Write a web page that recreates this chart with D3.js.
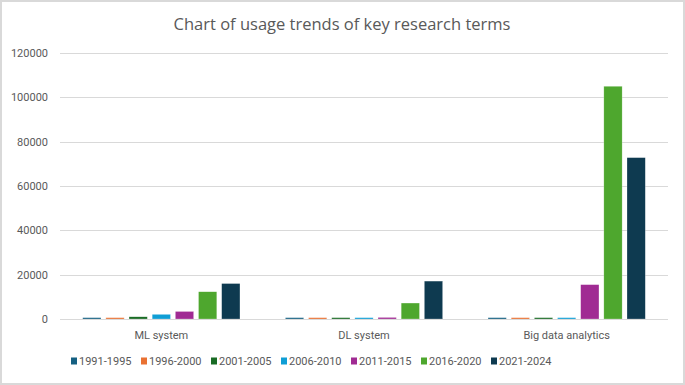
<!DOCTYPE html>
<html>
<head>
<meta charset="utf-8">
<script src="https://cdn.jsdelivr.net/npm/d3@7"></script>
<style>
  html, body { margin: 0; padding: 0; background: #fff; }
  svg { display: block; }
</style>
</head>
<body>
<div id="main"></div>
<script>
// data
const categories = ["ML system", "DL system", "Big data analytics"];
const periods = ["1991-1995", "1996-2000", "2001-2005", "2006-2010", "2011-2015", "2016-2020", "2021-2024"];
const colors = ["#156082", "#E97132", "#196B24", "#0F9ED5", "#A02B93", "#4EA72E", "#0E3A50"];
// one array per period, values in category order
const v1991 = [600, 600, 600];
const v1996 = [600, 600, 600];
const v2001 = [1000, 600, 600];
const v2006 = [2100, 600, 600];
const v2011 = [3400, 700, 15500];
const v2016 = [12300, 7200, 105000];
const v2021 = [16000, 17100, 72800];
const seriesValues = [v1991, v1996, v2001, v2006, v2011, v2016, v2021];
const yTicks = [0, 20000, 40000, 60000, 80000, 100000, 120000];

const ctx = { w: 685, h: 385 };
const margin = { top: 53, right: 17, bottom: 66, left: 60 };

const svg = d3.select("#main").append("svg")
    .attr("width", ctx.w)
    .attr("height", ctx.h);

// chart frame
svg.append("rect")
    .attr("x", 1).attr("y", 1)
    .attr("width", ctx.w - 2).attr("height", ctx.h - 2)
    .attr("fill", "#fff")
    .attr("stroke", "#d9d9d9")
    .attr("stroke-width", 2);

const x = d3.scaleBand()
    .domain(categories)
    .range([margin.left, ctx.w - margin.right]);

const inner = d3.scaleBand()
    .domain(periods)
    .range([0, x.bandwidth()])
    .paddingInner(0.21)
    .paddingOuter(0.98);

const y = d3.scaleLinear()
    .domain([0, 120000])
    .range([ctx.h - margin.bottom, margin.top]);

// gridlines
svg.append("g")
    .selectAll("line")
    .data(yTicks)
    .enter().append("line")
    .attr("x1", margin.left)
    .attr("x2", ctx.w - margin.right)
    .attr("y1", d => Math.round(y(d)) + 0.5)
    .attr("y2", d => Math.round(y(d)) + 0.5)
    .attr("stroke", "#d9d9d9")
    .attr("stroke-width", 1);

// y axis labels
const yAxis = svg.append("g")
    .attr("transform", `translate(${margin.left},0)`)
    .call(d3.axisLeft(y).tickValues(yTicks).tickSize(0).tickPadding(12).tickFormat(d3.format("d")));
yAxis.select(".domain").remove();
yAxis.selectAll("text")
    .attr("font-family", "Roboto, 'Liberation Sans', sans-serif")
    .attr("font-size", 11)
    .attr("fill", "#595959");

// bars
const rows = [];
periods.forEach((p, i) => {
    categories.forEach((c, j) => {
        rows.push({ period: p, cat: c, value: seriesValues[i][j], color: colors[i] });
    });
});

svg.append("g")
    .selectAll("rect")
    .data(rows)
    .enter().append("rect")
    .attr("x", d => x(d.cat) + inner(d.period))
    .attr("y", d => y(d.value))
    .attr("width", inner.bandwidth())
    .attr("height", d => y(0) - y(d.value))
    .attr("fill", d => d.color)
    .attr("stroke", "#fff")
    .attr("stroke-opacity", 0.5)
    .attr("stroke-width", 0.5);

// baseline
svg.append("line")
    .attr("x1", margin.left).attr("x2", ctx.w - margin.right)
    .attr("y1", Math.round(y(0)) + 0.5).attr("y2", Math.round(y(0)) + 0.5)
    .attr("stroke", "#d9d9d9");

// category labels
svg.append("g")
    .selectAll("text")
    .data(categories)
    .enter().append("text")
    .attr("x", d => x(d) + x.bandwidth() / 2)
    .attr("y", 339)
    .attr("text-anchor", "middle")
    .attr("font-family", "Roboto, 'Liberation Sans', sans-serif")
    .attr("font-size", 11)
    .attr("fill", "#595959")
    .text(d => d);

// legend
const legend = svg.append("g")
    .selectAll("g")
    .data(periods)
    .enter().append("g")
    .attr("transform", (d, i) => `translate(${71 + i * 70},361)`);

legend.append("rect")
    .attr("x", 0).attr("y", -3.5)
    .attr("width", 6).attr("height", 7)
    .attr("fill", (d, i) => colors[i]);

legend.append("text")
    .attr("x", 8)
    .attr("y", 0)
    .attr("dy", "0.35em")
    .attr("font-family", "Roboto, 'Liberation Sans', sans-serif")
    .attr("font-size", 11)
    .attr("fill", "#595959")
    .text(d => d);

// title
svg.append("text")
    .attr("x", 342)
    .attr("y", 30)
    .attr("text-anchor", "middle")
    .attr("font-family", "'Open Sans', sans-serif")
    .attr("font-size", 16.5)
    .attr("fill", "#595959")
    .text("Chart of usage trends of key research terms");
</script>
</body>
</html>
